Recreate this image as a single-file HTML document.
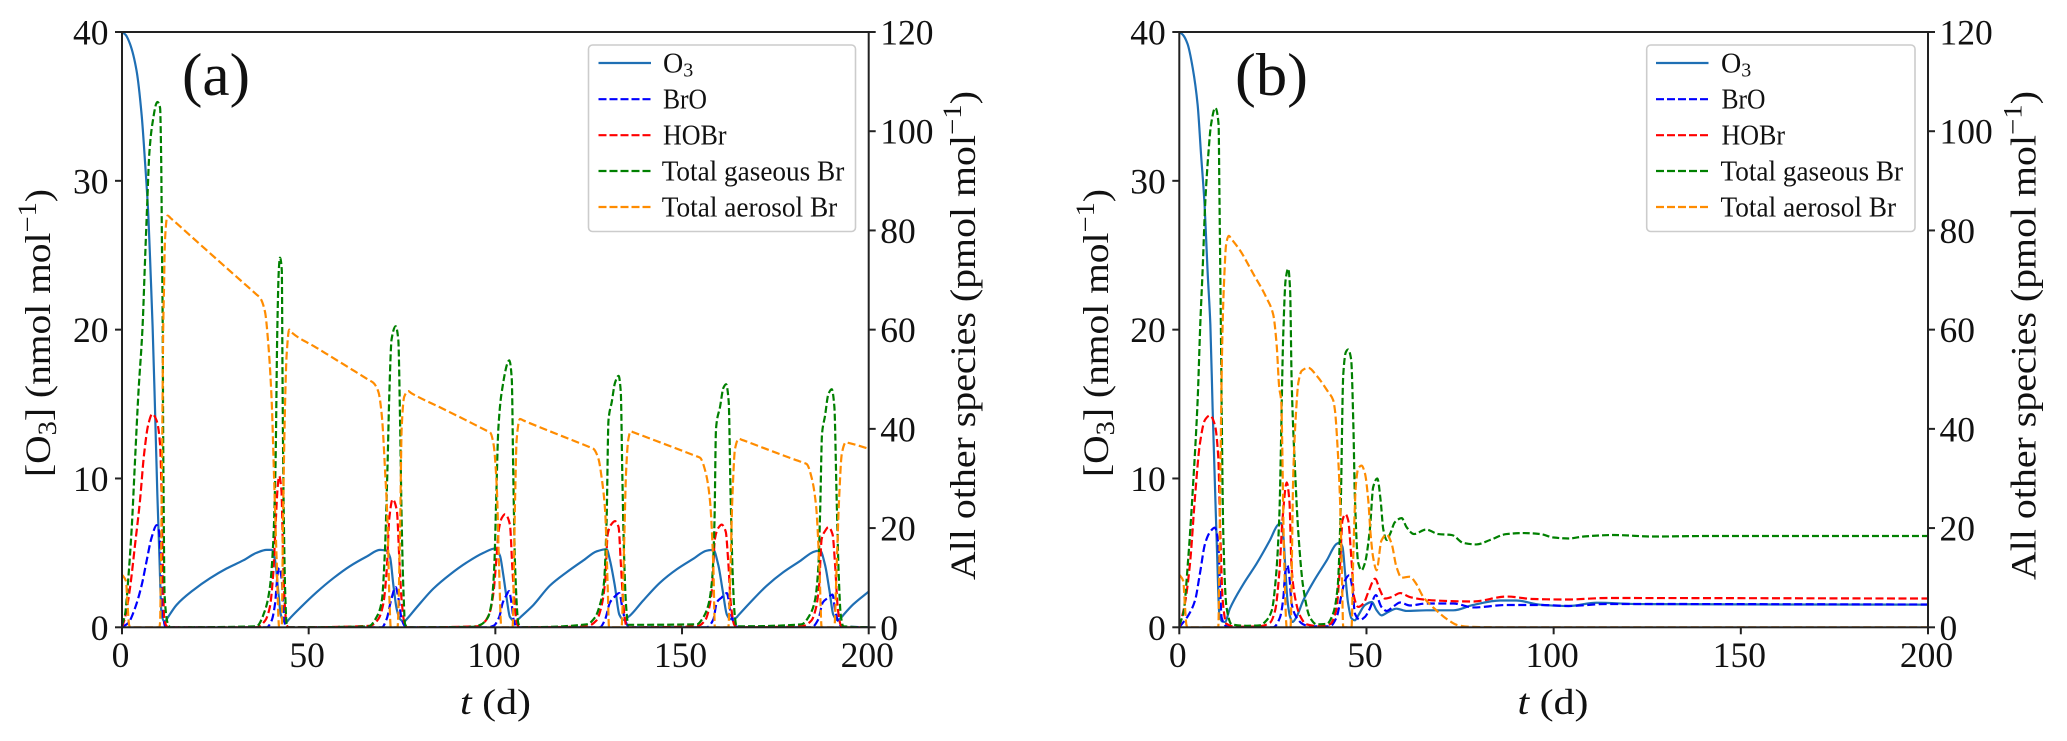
<!DOCTYPE html>
<html lang="en">
<head>
<meta charset="utf-8">
<title>Ozone and bromine species time series</title>
<style>
  html,body{margin:0;padding:0;background:#fff;}
  #figure{display:block;width:2067px;height:741px;font-family:"Liberation Serif",serif;fill:#111;}
  .tick-label{font-size:35.5px;}
  .axis-title{font-size:36px;}
  .panel-tag{font-size:60px;}
  .legend-text{font-size:28px;}
</style>
</head>
<body>
<svg id="figure" xmlns="http://www.w3.org/2000/svg" width="2067" height="741" viewBox="0 0 2067 741">
  <defs>
    <clipPath id="clip-a"><rect x="122" y="32" width="746.7" height="595.5"/></clipPath>
    <clipPath id="clip-b"><rect x="1179.3" y="32" width="748.7" height="595.5"/></clipPath>
  </defs>
  <rect x="0" y="0" width="2067" height="741" fill="#fff"/>

  <g id="panel-a"></g>
  <g id="panel-b"></g>

  <!-- panel a titles -->
  <text class="panel-tag" x="182" y="95" textLength="68" lengthAdjust="spacingAndGlyphs">(a)</text>
  <text class="axis-title" transform="translate(50,477) rotate(-90)" textLength="288" lengthAdjust="spacingAndGlyphs">[O<tspan font-size="26" dy="6">3</tspan><tspan dy="-6">] (nmol mol</tspan><tspan font-size="26" dy="-14">−1</tspan><tspan dy="14">)</tspan></text>
  <text class="axis-title" transform="translate(975,580) rotate(-90)" textLength="489" lengthAdjust="spacingAndGlyphs">All other species (pmol mol<tspan font-size="26" dy="-14">−1</tspan><tspan dy="14">)</tspan></text>
  <text class="axis-title" x="460" y="714" textLength="71" lengthAdjust="spacingAndGlyphs"><tspan font-style="italic">t</tspan> (d)</text>

  <!-- panel a legend -->
  <g>
    <rect x="588.5" y="45" width="267" height="186.5" rx="4" ry="4" fill="#fff" fill-opacity="0.85" stroke="#ccc" stroke-width="1.6"/>
    <line x1="598.5" x2="651" y1="63" y2="63" stroke="#1f6fb4" stroke-width="2.2"/>
    <line x1="598.5" x2="651" y1="99.2" y2="99.2" stroke="#0000ff" stroke-width="2.2" stroke-dasharray="8 3"/>
    <line x1="598.5" x2="651" y1="135.2" y2="135.2" stroke="#ff0000" stroke-width="2.2" stroke-dasharray="8 3"/>
    <line x1="598.5" x2="651" y1="171" y2="171" stroke="#008000" stroke-width="2.2" stroke-dasharray="8 3"/>
    <line x1="598.5" x2="651" y1="207" y2="207" stroke="#ff8c00" stroke-width="2.2" stroke-dasharray="8 3"/>
    <text class="legend-text" x="663" y="72.5">O<tspan font-size="20" dy="4">3</tspan></text>
    <text class="legend-text" x="663" y="108.7" textLength="44" lengthAdjust="spacingAndGlyphs">BrO</text>
    <text class="legend-text" x="663" y="144.7" textLength="63.5" lengthAdjust="spacingAndGlyphs">HOBr</text>
    <text class="legend-text" x="661.7" y="180.5" textLength="182.6" lengthAdjust="spacingAndGlyphs">Total gaseous Br</text>
    <text class="legend-text" x="661.7" y="216.5" textLength="175.6" lengthAdjust="spacingAndGlyphs">Total aerosol Br</text>
  </g>

  <!-- panel b titles -->
  <text class="panel-tag" x="1235" y="95" textLength="73" lengthAdjust="spacingAndGlyphs">(b)</text>
  <text class="axis-title" transform="translate(1108,477) rotate(-90)" textLength="288" lengthAdjust="spacingAndGlyphs">[O<tspan font-size="26" dy="6">3</tspan><tspan dy="-6">] (nmol mol</tspan><tspan font-size="26" dy="-14">−1</tspan><tspan dy="14">)</tspan></text>
  <text class="axis-title" transform="translate(2035.5,580) rotate(-90)" textLength="489" lengthAdjust="spacingAndGlyphs">All other species (pmol mol<tspan font-size="26" dy="-14">−1</tspan><tspan dy="14">)</tspan></text>
  <text class="axis-title" x="1517.5" y="714" textLength="71" lengthAdjust="spacingAndGlyphs"><tspan font-style="italic">t</tspan> (d)</text>

  <!-- panel b legend -->
  <g>
    <rect x="1646.7" y="45" width="268.3" height="186.5" rx="4" ry="4" fill="#fff" fill-opacity="0.85" stroke="#ccc" stroke-width="1.6"/>
    <line x1="1656" x2="1708.5" y1="63" y2="63" stroke="#1f6fb4" stroke-width="2.2"/>
    <line x1="1656" x2="1708.5" y1="99.2" y2="99.2" stroke="#0000ff" stroke-width="2.2" stroke-dasharray="8 3"/>
    <line x1="1656" x2="1708.5" y1="135.2" y2="135.2" stroke="#ff0000" stroke-width="2.2" stroke-dasharray="8 3"/>
    <line x1="1656" x2="1708.5" y1="171" y2="171" stroke="#008000" stroke-width="2.2" stroke-dasharray="8 3"/>
    <line x1="1656" x2="1708.5" y1="207" y2="207" stroke="#ff8c00" stroke-width="2.2" stroke-dasharray="8 3"/>
    <text class="legend-text" x="1721" y="72.5">O<tspan font-size="20" dy="4">3</tspan></text>
    <text class="legend-text" x="1721.5" y="108.7" textLength="44" lengthAdjust="spacingAndGlyphs">BrO</text>
    <text class="legend-text" x="1721.5" y="144.7" textLength="63.5" lengthAdjust="spacingAndGlyphs">HOBr</text>
    <text class="legend-text" x="1720.5" y="180.5" textLength="182.6" lengthAdjust="spacingAndGlyphs">Total gaseous Br</text>
    <text class="legend-text" x="1720.5" y="216.5" textLength="175.6" lengthAdjust="spacingAndGlyphs">Total aerosol Br</text>
  </g>
</svg>

<script>
// ---- tick values ----
const xTicks = [0, 50, 100, 150, 200];
const leftTicks = [0, 10, 20, 30, 40];
const rightTicks = [0, 20, 40, 60, 80, 100, 120];
const xLimit = 200;
const leftLimit = 40;
const rightLimit = 120;

// ---- panel (a): O3 in nmol/mol, all others in pmol/mol ----
const aO3Days = [0,1,2.14,3.9,5.27,6.16,7.05,7.68,8.2,8.84,9.47,10,10.6,11.3,11.8,12.3,14.6,19.1,23.6,28,32.5,36,38.75,40.1,41,41.9,42.5,43.2,44.1,44.6,47.7,52.1,56.6,61,65.5,69.1,70.9,71.8,72.7,73.6,74.5,75.6,76.1,78.9,83.4,87.9,92.3,96.8,100,101.25,102.1,103,103.9,105.3,106.4,106.9,110.2,114.6,119.1,123.6,127.1,129.8,130.7,132,133.2,134.3,135.6,136.1,139.6,144.1,148.6,153,156.6,158.4,159.7,160.9,162,162.9,164.5,165,168.2,172.7,177.1,181.6,185.6,187,188.3,189.5,190.5,191.6,192.8,193.3,195.9,200];
const aO3Values = [40,39.8,39.2,37.4,34.4,31.3,27.7,23.7,20.2,14.7,8.9,4.9,0.85,0.4,0.47,0.67,1.5,2.5,3.3,3.95,4.5,5,5.2,5.2,4.5,2.3,0.9,0.4,0.35,0.5,1.3,2.35,3.3,4.1,4.75,5.2,5.15,4.7,2.8,1.2,0.54,0.38,0.5,1.33,2.6,3.56,4.35,5,5.3,4.8,3.56,2,0.7,0.4,0.6,0.72,1.5,2.8,3.7,4.5,5.1,5.25,4.5,2.8,0.86,0.5,0.7,0.8,1.8,3,3.9,4.6,5.15,5.2,4.2,2.45,0.86,0.55,0.64,0.78,1.65,2.8,3.7,4.45,5.1,5.15,4.2,2.45,0.86,0.48,0.7,0.85,1.55,2.4];

const aBroDays = [0,1.7,3.5,5.3,6.6,7.9,9.3,9.9,10.45,10.9,11.5,12,38.75,40.1,41,41.7,42.1,42.8,43.2,43.8,44.5,69.6,70.9,72.05,73.3,74,74.9,75.8,76.5,98,99.5,101,102,103,103.66,104.4,105,105.7,106.5,128,129.4,130.7,132,133.2,134,134.7,135.6,136.5,156.6,158.4,159.3,160.6,162,162.9,163.5,164.5,165.5,184.7,186.5,187.7,189.2,190.3,191,191.9,192.8,200];
const aBroValues = [0,0.9,3.9,8.6,13.4,18,20.6,19.4,13.4,3.9,0.3,0,0,1.4,4.8,10.8,12,9.5,4,0.2,0,0,1.7,5.4,8.1,6,1.7,0.2,0,0,0.3,2,5,6.5,7.3,4.5,1.1,0.2,0,0,1.6,5,6.2,6.9,4,1.6,0.2,0,0,1.6,5,6,6.9,3.5,1.6,0.2,0,0,1.6,5,6,6.6,3.5,1.1,0.2,0];

const aHobrDays = [0,0.8,2.14,3.5,4.8,5.9,7.05,8.1,9.3,10.2,10.6,10.9,11.3,12,12.5,36,38.3,39.6,40.5,41.1,41.7,42.1,42.7,43.2,43.7,44.1,44.8,66.4,68.7,70,70.9,71.6,72.5,73.6,74.3,74.9,75.8,76.5,95,97,98.5,99.5,100.3,101,101.7,102.6,103.9,104.55,105.3,105.9,106.6,124.5,127.1,128.5,129.4,130.1,131,132.05,133,133.6,134.3,135,135.7,154,156.2,157.3,158.1,158.8,159.7,160.6,161.7,162.4,163.1,164,164.7,182,184.7,185.9,186.7,187.4,188.3,189.2,190.3,191,191.7,192.5,193.2,200];
const aHobrValues = [0,1.9,7.9,16.7,25.4,34.8,40.9,43,41.6,36.8,26.7,13.4,1.9,0.2,0,0,1.3,4.1,10.8,20,28.3,30.5,27.6,12.2,3.4,0.4,0,0.3,1.7,4.8,11.5,22,25.8,23.6,13.5,5.4,0.4,0,0.2,1,3,7,14,20,22,22.8,20.7,12,3.5,0.5,0,0.2,1.4,4.5,9.2,18.8,20.7,21.4,20.2,13,4.5,0.5,0,0.2,1.4,4,8.3,17.8,20,20.7,19.3,13,4.5,0.5,0,0.2,1.4,4,8.3,17.8,19.4,20.2,18.8,12.6,4,0.5,0,0];

const aGasDays = [0,0.8,1.69,2.6,3.48,4.37,5.5,6.16,6.78,7.3,8.1,9.47,10.2,10.5,10.7,10.9,11.02,11.15,11.4,12.4,13,36,38.3,39.6,40.5,41.1,41.6,42,42.3,42.8,43,43.2,43.7,44.1,44.8,66,68.5,69.6,70.4,71.1,71.6,72.2,73.3,74,74.5,74.9,75.4,75.8,76.5,94,96,98,99,99.7,100.2,100.8,101.7,103.75,104.4,104.8,105.3,106.2,107,124.5,126.7,128,129.1,129.8,130.3,131.2,132.05,133,133.6,134,134.5,135,135.6,154,155.7,157.05,158.1,158.7,159.1,160.2,161.1,161.8,162.5,163,163.6,164.1,164.6,182,184.3,185.6,186.5,187,187.5,188.3,189.2,190.1,190.8,191.4,192,192.5,193.2,200];
const aGasValues = [0.5,2.5,9.9,20,33.5,46.9,60.5,73.8,85.9,95.3,101.3,105.9,104.7,94,77,61,40,25,6.6,0.5,0,0.2,3.4,8,17,32,60,72,74.5,72,50,31,7.3,0.7,0,0.2,2.5,5.4,15,32,47,58,60.7,58,40.7,21.6,7,0.7,0,0.1,0.5,2,5,12,25,40,47.4,53.8,50,31,12,0.7,0,0.6,2,4.5,9,21.6,41.7,45.5,49.3,50.7,47.4,31,14,4.5,0.5,0.6,2,4.5,10,21.6,40,44.5,48.3,49,45.5,27,10,2.6,0.2,0.6,2.6,5.4,12,23.5,39,42.6,47,48,44.5,26.4,10,2.6,0.2,0];

const aAeroDays = [0,1.07,1.43,1.9,2.2,10,10.2,10.4,10.8,11.05,11.25,11.5,12.2,13,20,30,36,37,38.3,39.2,40.1,40.7,41.4,42.1,42.8,43.1,43.7,44.1,44.8,45.5,52,60,66,67.3,68.7,69.6,70.5,71.1,71.6,72,73.8,74.5,74.9,75.6,76.7,77.5,85,92,97.5,98.6,99.5,100.4,101,101.6,104,104.6,105.3,105.7,106.6,107.5,113,120,125,126.25,127.6,128.5,129.4,130.1,130.45,133.8,134.5,135,135.6,136.25,137,143,150,153.8,154.8,156.4,157.5,158.4,158.8,162.4,162.9,163.5,164.2,165.2,166,172,178,182.4,183.4,184.7,185.9,186.8,187.4,190.8,191.4,192.1,192.8,193.9,194.5,200];
const aAeroValues = [10.6,9.3,5.3,0.5,0,0,1,10,40,61,68.4,77.9,83,82.5,77.8,71.1,67.1,66.4,63.6,57,45.5,31,14,0,0.5,20,45.8,55,60,59.4,56.4,52.7,49.9,49.3,47.4,42.6,31,21.6,6.4,0,0,20.5,40,46.5,47.6,47.2,44.4,41.8,39.7,39.3,37,28,12,0,0,0,26.4,37.8,42,41.7,40,37.9,36.4,36,34,30,23.5,8,0,0,17,31,37.8,39.5,39.3,37.6,35.6,34.5,34.2,31,25.4,12,0,0,10,26.4,36,38,37.8,36.1,34.4,33.2,32.9,30.2,24.5,12,0,0,12,26.4,35,37.3,37.2,36];

// ---- panel (b): O3 in nmol/mol, all others in pmol/mol ----
const bO3Days = [0,1,2.2,3.57,4.9,5.8,6.7,7.6,8.3,8.9,9.6,10.1,10.7,11.4,12.2,13.5,17.1,20.7,24.2,26.4,27.2,27.8,28.4,28.9,29.6,30.3,31.3,33.1,35.8,39.4,42,42.9,43.6,44.3,45.1,46,46.9,47.8,49.6,51.4,52.7,54,55.8,58,60.7,66,73.2,78.5,85.7,90,96.4,104,111.5,123,200];
const bO3Values = [40,39.8,39.2,37.6,35.1,31.8,28.6,23.7,20.3,14.7,8.9,4.9,0.85,0.4,0.36,1.25,2.9,4.3,5.85,6.9,7,6.1,3.6,1.8,0.7,0.36,0.7,1.8,3.05,4.5,5.6,5.7,5.4,3.6,1.6,0.6,0.47,0.8,1.5,1.7,1.15,0.8,1.03,1.25,1.1,1.14,1.14,1.5,1.8,1.8,1.52,1.43,1.65,1.56,1.52];

const bBroDays = [0,2.4,4.2,5.5,6.9,8.2,9.5,10.4,10.9,11.3,12.6,13.5,25.1,26.9,27.8,28.3,28.9,29.4,30,31.3,33.1,34.9,40.2,42,43.4,44.3,45.4,46.3,46.9,48.3,49.6,50.9,52.5,54,55.4,57.2,59,61.6,66,73.2,78.5,87.4,96.4,104,114,200];
const bBroValues = [0,2.4,5.4,10.8,16.9,19.2,20.1,16.9,8.1,2,0.2,0,0,2,6,11,12.5,10.2,4.8,2,0.6,0.2,0.2,2,6.8,9.5,10.5,7.5,2.8,1.5,2.1,3.8,6.5,4.1,3.3,4.2,5,4.4,4.8,4.8,4,4.5,4.5,4.3,4.7,4.6];

const bHobrDays = [0,1.5,2.85,4.2,5.5,6.86,8.2,9.5,10.4,11,11.6,12.6,15.3,21.5,24.2,25.6,26.7,27.6,28.7,29.4,30,30.9,32.2,34,37.6,40.2,41.9,42.9,43.6,44.4,45.1,46,46.7,47.8,49.2,50.5,52.3,53.6,54.9,56.7,59,61.6,65.2,71.4,78.5,87.4,94.6,103.5,114.2,200];
const bHobrValues = [0,4.8,12.8,26.3,37,41.8,42.7,40.8,34.4,17.6,5.4,0.7,0.1,0.2,0.9,3.4,10.8,22,29.2,25.6,12,6.1,2.4,0.6,0.2,0.6,3.4,12,21.6,22.8,21.6,13.5,6.1,4.1,4.8,7.1,9.8,7.5,5.8,6.1,6.9,6.1,5.6,5.3,5.2,6.2,5.7,5.6,5.9,5.8];

const bGasDays = [0,1.07,2.4,3.7,4.9,5.6,6.25,6.95,7.75,8.47,9.6,10.5,10.7,11.1,11.3,11.75,12.6,14,18,21.5,23.3,24.7,25.8,26.7,27.8,28.4,29.1,29.6,30,30.9,31.8,33.1,34.9,36.7,39.4,41.1,42.3,43.1,43.8,44.5,45.1,45.9,46.5,46.9,47.8,48.7,49.6,50.9,51.8,52.9,53.8,54.5,55.4,56.3,57.6,59.4,60.7,62.7,65.9,69.2,72.8,75.9,79.4,83,87.4,91.9,96.4,100,104,108,116,126.6,140.9,167.6,200];
const bGasValues = [0.5,2.8,14,29,45.8,61,72.4,85.9,95.3,101.3,104.7,101.3,88.6,61,45.8,18.9,4.1,0.6,0.3,0.4,1.4,3.4,10,22,59.8,70,72.3,68,50,32,19,8.1,2,0.6,0.7,2.8,8.1,23.6,51,55.5,56,54,40.7,26.4,13,11.5,13,19.7,28.3,30,25.4,19.7,17.6,18.8,21.2,22,20.2,18.8,19.7,18.8,18.6,17,16.7,17.6,18.8,19,18.8,18.1,17.9,18.3,18.6,18.3,18.4,18.4,18.4];

const bAeroDays = [0,1.07,1.43,1.9,2.2,10,10.4,10.9,11.3,11.6,12,12.5,13.2,14,16.2,19.8,23.3,25.1,26,26.7,27.2,28,28.7,29.7,30.45,31.2,31.8,32.7,34.5,36.7,39.8,41.1,41.6,42.3,42.9,43.4,43.8,46,46.5,47.2,47.8,48.7,49.6,50.5,51.1,51.8,52.7,54,55.4,56.7,58,59.4,61.6,63,65.2,68.7,71.4,74.5,77.6,85,200];
const bAeroValues = [10.6,9.3,5.3,0.5,0,0,0,26.4,50,61.7,70.4,77.1,78.9,78.2,76,71.2,66.4,63,57,48.3,45.8,14,0,0,31,43.6,49.3,51.7,52.3,50.7,47.4,45.8,43.6,36,26.4,12,0,0,15,29,32,32.6,31,25.4,18.8,14,11.5,17.5,18.7,16.9,12.2,10,10.2,9.1,6.1,3.4,1.7,0.4,0.1,0,0];

const panelASeries = [
  {name:'panel-a-o3-line', days:aO3Days, values:aO3Values, axis:'left', color:'#1f6fb4', dash:''},
  {name:'panel-a-bro-line', days:aBroDays, values:aBroValues, axis:'right', color:'#0000ff', dash:'8 3.5'},
  {name:'panel-a-hobr-line', days:aHobrDays, values:aHobrValues, axis:'right', color:'#ff0000', dash:'8 3.5'},
  {name:'panel-a-total-gaseous-br-line', days:aGasDays, values:aGasValues, axis:'right', color:'#008000', dash:'7 3'},
  {name:'panel-a-total-aerosol-br-line', days:aAeroDays, values:aAeroValues, axis:'right', color:'#ff8c00', dash:'8 3.5'}
];
const panelBSeries = [
  {name:'panel-b-o3-line', days:bO3Days, values:bO3Values, axis:'left', color:'#1f6fb4', dash:''},
  {name:'panel-b-bro-line', days:bBroDays, values:bBroValues, axis:'right', color:'#0000ff', dash:'8 3.5'},
  {name:'panel-b-hobr-line', days:bHobrDays, values:bHobrValues, axis:'right', color:'#ff0000', dash:'8 3.5'},
  {name:'panel-b-total-gaseous-br-line', days:bGasDays, values:bGasValues, axis:'right', color:'#008000', dash:'7 3'},
  {name:'panel-b-total-aerosol-br-line', days:bAeroDays, values:bAeroValues, axis:'right', color:'#ff8c00', dash:'8 3.5'}
];

const NS = 'http://www.w3.org/2000/svg';
function make(tag, attrs, parent) {
  const node = document.createElementNS(NS, tag);
  for (const key in attrs) node.setAttribute(key, attrs[key]);
  parent.appendChild(node);
  return node;
}

// Monotone cubic through the points, tangents weighted by segment length.
function smoothPath(xs, ys) {
  const n = xs.length;
  const gap = [], slope = [];
  for (let i = 0; i < n - 1; i++) {
    const dx = xs[i + 1] - xs[i];
    gap.push(dx);
    slope.push(dx === 0 ? 0 : (ys[i + 1] - ys[i]) / dx);
  }
  const tangent = [slope[0]];
  for (let i = 1; i < n - 1; i++) {
    const a = slope[i - 1], b = slope[i];
    if (a * b <= 0) { tangent.push(0); continue; }
    const w1 = 2 * gap[i] + gap[i - 1];
    const w2 = gap[i] + 2 * gap[i - 1];
    tangent.push((w1 + w2) / (w1 / a + w2 / b));
  }
  tangent.push(slope[n - 2]);
  let d = 'M' + xs[0].toFixed(2) + ' ' + ys[0].toFixed(2);
  for (let i = 0; i < n - 1; i++) {
    const h = gap[i] / 3;
    d += 'C' + (xs[i] + h).toFixed(2) + ' ' + (ys[i] + tangent[i] * h).toFixed(2) + ' ' +
         (xs[i + 1] - h).toFixed(2) + ' ' + (ys[i + 1] - tangent[i + 1] * h).toFixed(2) + ' ' +
         xs[i + 1].toFixed(2) + ' ' + ys[i + 1].toFixed(2);
  }
  return d;
}

function drawPanel(group, prefix, left, right, top, bottom, clipId, series) {
  const xScale = v => left + (v / xLimit) * (right - left);
  const leftScale = v => bottom - (v / leftLimit) * (bottom - top);
  const rightScale = v => bottom - (v / rightLimit) * (bottom - top);

  const lines = make('g', {'clip-path': 'url(#' + clipId + ')'}, group);
  
  
  series.forEach(s => {
    const yScale = s.axis === 'left' ? leftScale : rightScale;
    const path = make('path', {
      d: smoothPath(s.days.map(xScale), s.values.map(yScale)),
      fill: 'none', stroke: s.color, 'stroke-width': 2.2,
      'stroke-dasharray': s.dash || 'none', 'stroke-linejoin': 'round'
    }, lines);
    
    
  });

  const frame = make('rect', {
    x: left, y: top, width: right - left, height: bottom - top,
    fill: 'none', stroke: '#222', 'stroke-width': 2
  }, group);
  
  

  xTicks.forEach(v => {
    const px = xScale(v);
    const tick = make('line', {x1: px, x2: px, y1: bottom, y2: bottom + 7, stroke: '#222', 'stroke-width': 2}, group);
    
    
    const label = make('text', {class: 'tick-label', x: px - 1.5, y: 667, 'text-anchor': 'middle'}, group);
    
    
    label.textContent = v;
  });
  leftTicks.forEach(v => {
    const py = leftScale(v);
    const tick = make('line', {x1: left - 7, x2: left, y1: py, y2: py, stroke: '#222', 'stroke-width': 2}, group);
    
    
    const label = make('text', {class: 'tick-label', x: left - 13.5, y: py + 12.5, 'text-anchor': 'end'}, group);
    
    
    label.textContent = v;
  });
  rightTicks.forEach(v => {
    const py = rightScale(v);
    const tick = make('line', {x1: right, x2: right + 7, y1: py, y2: py, stroke: '#222', 'stroke-width': 2}, group);
    
    
    const label = make('text', {class: 'tick-label', x: right + 11.5, y: py + 12.5}, group);
    
    
    label.textContent = v;
  });
}

drawPanel(document.getElementById('panel-a'), 'panel-a', 122, 868.7, 32, 627.3, 'clip-a', panelASeries);
drawPanel(document.getElementById('panel-b'), 'panel-b', 1179.3, 1928, 32, 627.3, 'clip-b', panelBSeries);
</script>
</body>
</html>
